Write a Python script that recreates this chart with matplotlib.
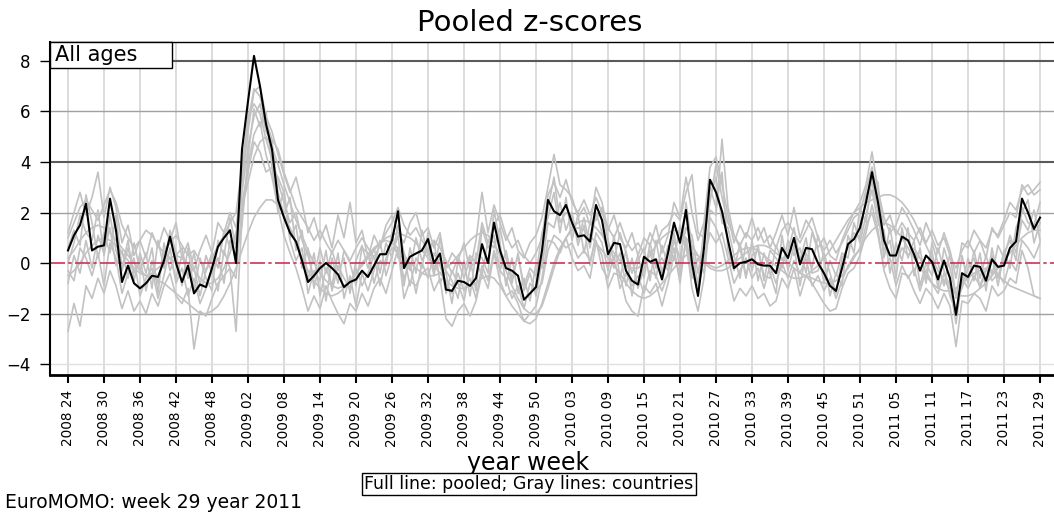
import numpy as np
import matplotlib
matplotlib.use("Agg")
import matplotlib.pyplot as plt
from matplotlib.patches import Rectangle

plt.rcParams["font.family"] = ["DejaVu Sans"]

# week labels shown every 6 weeks, 2008 w24 .. 2011 w29
tick_labels = [
    "2008 24", "2008 30", "2008 36", "2008 42", "2008 48",
    "2009 02", "2009 08", "2009 14", "2009 20", "2009 26", "2009 32",
    "2009 38", "2009 44", "2009 50",
    "2010 03", "2010 09", "2010 15", "2010 21", "2010 27", "2010 33",
    "2010 39", "2010 45", "2010 51",
    "2011 05", "2011 11", "2011 17", "2011 23", "2011 29",
]

# pooled z-score, one value per week
pooled = [
    0.5, 1.1, 1.5, 2.35, 0.5, 0.65, 0.7, 2.55, 1.3, -0.75,
    -0.1, -0.8, -1.0, -0.8, -0.5, -0.55, 0.1, 1.05, 0.0, -0.75,
    -0.1, -1.2, -0.85, -0.95, -0.2, 0.65, 1.0, 1.3, 0.0, 4.5,
    6.4, 8.2, 7.0, 5.5, 4.5, 2.5, 1.8, 1.2, 0.85, 0.1,
    -0.75, -0.5, -0.2, 0.0, -0.2, -0.45, -0.95, -0.75, -0.65, -0.3,
    -0.55, -0.1, 0.35, 0.35, 0.9, 2.05, -0.2, 0.25, 0.38, 0.5,
    0.95, 0.0, 0.38, -1.05, -1.1, -0.7, -0.75, -0.9, -0.6, 0.75,
    0.0, 1.6, 0.5, -0.2, -0.3, -0.5, -1.45, -1.2, -0.95, 0.5,
    2.5, 2.05, 1.9, 2.3, 1.6, 1.05, 1.1, 0.85, 2.3, 1.7,
    0.35, 0.8, 0.75, -0.3, -0.7, -0.85, 0.25, 0.05, 0.15, -0.65,
    0.4, 1.6, 0.8, 2.1, 0.0, -1.3, 0.6, 3.3, 2.8, 2.05,
    0.9, -0.2, 0.0, 0.05, 0.15, -0.05, -0.1, -0.1, -0.4, 0.6,
    0.2, 1.0, -0.05, 0.6, 0.55, 0.0, -0.4, -0.9, -1.1, -0.2,
    0.75, 0.95, 1.4, 2.4, 3.6, 2.4, 0.9, 0.3, 0.3, 1.05,
    0.9, 0.35, -0.3, 0.3, 0.05, -0.65, 0.1, -0.6, -2.05, -0.4,
    -0.55, -0.1, -0.15, -0.7, 0.15, -0.15, -0.1, 0.6, 0.85, 2.55,
    2.0, 1.35, 1.8,
]

# country z-scores (gray lines)
country_a = [
    1.2, 2.0, 2.8, 1.9, 2.6, 3.6, 1.8, 3.0, 2.2, 0.8,
    1.5, 0.3, 0.9, 0.2, 1.2, 0.6, 1.4, 0.9, 1.6, 0.2,
    0.8, -0.3, 0.5, 1.1, 0.4, 1.6, 1.2, 2.0, 1.4, 3.2,
    5.2, 6.8, 7.0, 5.8, 5.2, 4.3, 3.5, 2.8, 3.4, 2.4,
    1.2, 1.8, 0.9, 1.5, 0.6, 1.9, 1.0, 2.4, 0.8, 1.3,
    0.2, 1.1, 0.6, 1.5, 1.9, 1.2, 0.8, 1.6, 2.0, 1.1,
    1.4, 0.6, 1.2, -0.2, 0.4, 0.1, 0.8, -0.3, 0.9, 2.8,
    1.2, 2.3, 1.6, 0.9, 1.4, 0.5, 0.2, 0.8, 1.1, 1.8,
    3.0, 4.3, 3.1, 2.9, 2.6, 1.8, 2.2, 1.5, 3.0, 2.4,
    1.3, 1.9, 1.0, 0.6, 1.2, 0.3, 1.0, 0.7, 1.5, 0.4,
    1.1, 2.4, 1.8, 3.4, 2.0, 0.9, 1.6, 3.8, 4.2, 3.1,
    1.9, 0.8, 1.5, 1.0, 1.8, 0.9, 1.4, 0.6, 1.2, 1.9,
    1.1, 2.2, 1.0, 1.7, 1.3, 0.6, 1.0, 0.3, 0.1, 0.9,
    1.5, 2.0, 2.4, 3.1, 4.4, 2.9, 1.8, 1.2, 1.5, 2.2,
    1.8, 1.3, 0.7, 1.6, 1.0, 0.4, 1.2, 0.5, -0.6, 0.8,
    0.6, 1.3, 0.9, 0.2, 1.4, 1.0, 1.5, 2.0, 1.8, 3.1,
    2.7, 2.9, 3.2,
]
country_b = [
    -2.7, -1.6, -2.5, -0.9, -1.4, -0.6, -1.2, -0.3, -0.9, -1.8,
    -1.1, -1.9, -1.5, -2.0, -1.2, -1.7, -0.9, -0.4, -1.3, -1.6,
    -1.0, -3.4, -1.9, -2.1, -1.4, -0.8, -0.5, -0.2, -2.7, 1.8,
    3.9, 5.1, 5.6, 4.3, 3.4, 2.2, 1.1, 0.4, -0.2, -1.0,
    -1.9, -1.3, -1.8, -0.9, -1.5, -2.0, -2.4, -1.6, -1.9, -1.2,
    -1.7, -1.0, -0.6, -1.2, -0.3, 0.6, -1.4, -0.7, -0.9, -0.4,
    -0.2, -1.1, -0.6, -2.2, -2.5, -1.9, -1.6, -2.1, -1.5, -0.4,
    -1.0, 0.4, -0.7, -1.3, -1.1, -1.6, -2.3, -2.0, -1.7, -0.6,
    0.9, 0.8, 0.4, 1.0, 0.2, -0.3, -0.1, -0.6, 0.8, 0.3,
    -1.0, -0.4, -0.5, -1.5, -1.9, -2.1, -0.9, -1.2, -0.8, -1.7,
    -0.8, 0.3, -0.5, 0.9, -1.0, -1.9, -0.6, 1.8, 1.4, 0.7,
    -0.4, -1.5, -1.0, -1.3, -0.9, -1.4, -1.2, -1.7, -1.5, -0.6,
    -1.0, -0.2, -1.3, -0.5, -0.8, -1.2, -1.6, -1.9, -1.8, -1.0,
    -0.4, -0.2, 0.3, 1.2, 2.3, 1.3, -0.3, -1.0, -1.4, -0.4,
    -0.5, -1.1, -1.6, -1.0, -1.3, -1.8, -1.2, -1.7, -3.3, -1.5,
    -1.6, -1.2, -1.4, -1.9, -0.9, -1.3, -1.1, -0.6, -0.8, 0.5,
    -0.2, -1.3, -1.4,
]
country_c = [
    0.2, 0.5, 0.9, 1.2, 1.4, 1.5, 1.4, 1.2, 0.9, 0.6,
    0.3, 0.0, -0.3, -0.5, -0.6, -0.7, -0.8, -1.0, -1.2, -1.4,
    -1.6, -1.8, -2.0, -2.0, -1.9, -1.7, -1.3, -0.8, -0.2, 0.5,
    1.2, 1.8, 2.2, 2.5, 2.5, 2.3, 1.9, 1.4, 0.8, 0.2,
    -0.3, -0.7, -1.0, -1.2, -1.3, -1.2, -1.0, -0.7, -0.4, -0.1,
    0.2, 0.5, 0.8, 1.0, 1.1, 1.2, 1.1, 1.0, 0.8, 0.5,
    0.2, -0.1, -0.4, -0.7, -0.9, -1.0, -1.0, -0.9, -0.8, -0.6,
    -0.5, -0.6, -0.9, -1.3, -1.7, -2.0, -2.3, -2.4, -2.2, -1.6,
    -0.8, 0.0, 0.6, 1.0, 1.3, 1.4, 1.3, 1.1, 0.8, 0.5,
    0.2, -0.1, -0.4, -0.8, -1.1, -1.3, -1.4, -1.3, -1.1, -0.8,
    -0.5, -0.2, 0.1, 0.3, 0.4, 0.3, 0.1, -0.1, -0.2, -0.1,
    0.1, 0.3, 0.5, 0.6, 0.6, 0.5, 0.3, 0.1, -0.1, -0.3,
    -0.5, -0.6, -0.6, -0.5, -0.3, -0.1, 0.2, 0.5, 0.9, 1.3,
    1.7, 2.0, 2.2, 2.4, 2.5, 2.6, 2.7, 2.7, 2.6, 2.4,
    2.1, 1.7, 1.2, 0.7, 0.2, -0.3, -0.7, -1.0, -1.2, -1.3,
    -1.3, -1.2, -1.0, -0.8, -0.5, -0.2, 0.1, 0.4, 0.7, 1.0,
    1.2, 1.3, 1.3,
]
country_d = [
    -0.5, -0.3, 0.0, 0.4, 0.7, 0.9, 1.0, 0.9, 0.7, 0.4,
    0.1, -0.2, -0.4, -0.5, -0.4, -0.2, 0.0, 0.2, 0.3, 0.2,
    0.0, -0.3, -0.6, -0.8, -0.8, -0.6, -0.2, 0.4, 1.2, 2.2,
    3.2, 4.2, 4.8, 5.0, 4.6, 3.9, 3.1, 2.4, 1.7, 1.1,
    0.5, 0.0, -0.4, -0.7, -0.9, -1.0, -0.9, -0.7, -0.4, 0.0,
    0.3, 0.6, 0.8, 0.9, 0.8, 0.6, 0.3, 0.0, -0.2, -0.4,
    -0.5, -0.5, -0.4, -0.2, 0.0, 0.3, 0.6, 0.9, 1.1, 1.2,
    1.1, 0.8, 0.3, -0.3, -0.9, -1.4, -1.8, -2.0, -2.0, -1.7,
    -1.0, -0.2, 0.5, 1.0, 1.4, 1.6, 1.7, 1.6, 1.4, 1.1,
    0.7, 0.4, 0.1, -0.1, -0.2, -0.2, 0.0, 0.3, 0.7, 1.0,
    1.2, 1.3, 1.2, 1.0, 0.7, 0.3, 0.0, -0.2, -0.3, -0.3,
    -0.2, 0.0, 0.2, 0.4, 0.6, 0.7, 0.7, 0.6, 0.4, 0.2,
    0.0, -0.2, -0.4, -0.5, -0.6, -0.7, -0.8, -0.8, -0.7, -0.5,
    -0.2, 0.2, 0.6, 1.0, 1.3, 1.5, 1.6, 1.5, 1.3, 1.0,
    0.6, 0.2, -0.2, -0.5, -0.8, -1.0, -1.1, -1.1, -1.0, -0.8,
    -0.6, -0.4, -0.3, -0.2, -0.3, -0.5, -0.7, -0.9, -1.0, -1.1,
    -1.2, -1.3, -1.4,
]
country_e = [
    0.0, 0.8, 1.9, 1.2, 0.9, 2.1, 0.3, 1.9, 0.5, -0.3,
    0.6, -0.4, 0.2, -1.1, 0.1, -0.8, 0.5, 0.2, -0.6, 0.3,
    -0.5, -0.2, -1.3, -0.3, 0.4, -0.2, 1.3, 0.6, 1.0, 3.6,
    5.8, 6.3, 5.9, 4.9, 4.1, 3.2, 2.4, 1.6, 2.0, 0.9,
    0.3, -0.6, 0.6, -0.4, 0.5, -0.3, 0.2, -1.2, 0.1, 0.7,
    -0.2, 0.6, -0.4, 0.8, 0.2, 1.5, 0.4, -0.3, 1.0, 0.1,
    0.6, -0.5, 1.0, -0.4, -1.6, 0.1, -0.6, 0.2, -1.1, 1.4,
    0.6, 1.1, -0.3, 0.5, -0.6, 0.3, -0.9, -0.2, -0.5, 1.2,
    1.8, 2.8, 1.2, 2.6, 0.9, 1.9, 0.4, 1.6, 1.7, 2.2,
    0.9, 0.1, 1.2, 0.4, -0.4, 0.3, -0.6, 0.8, -0.2, 0.2,
    -0.3, 0.9, 0.2, 1.4, 1.1, -0.4, 1.0, 2.6, 3.4, 1.6,
    1.4, 0.3, -0.6, 0.8, -0.3, 0.7, -0.7, 0.5, 0.2, -0.2,
    0.9, 0.3, 0.6, -0.4, 1.2, 0.5, -0.8, 0.1, -0.5, 0.4,
    0.2, 1.6, 0.8, 1.9, 2.9, 1.6, 1.3, -0.4, 0.8, 0.1,
    1.4, -0.5, 0.6, -0.8, 0.8, 0.0, -0.9, 0.4, -1.4, 0.3,
    -0.8, 0.5, -0.6, 0.3, -0.5, 0.7, 0.2, 1.1, 0.4, 1.7,
    1.3, 2.1, 0.9,
]
country_f = [
    -0.8, 0.3, -0.4, 0.9, -0.2, 1.1, 0.4, 1.4, -0.1, 0.5,
    -0.6, 0.8, -0.3, 0.4, -1.0, 0.9, -0.2, 1.3, 0.4, -0.9,
    0.6, -1.1, 0.2, -0.6, -1.1, 0.9, 0.3, 1.8, 0.6, 2.8,
    4.6, 5.8, 6.3, 5.2, 4.8, 2.8, 1.9, 2.6, 0.5, 1.3,
    -0.7, 0.4, -1.3, -0.2, -0.9, 0.4, -1.4, -0.5, -1.7, -0.4,
    -1.1, -0.3, 0.9, -0.5, 0.3, 1.1, -0.9, 0.6, -0.4, 1.3,
    0.3, 0.9, -0.8, -0.3, -0.7, -1.4, 0.1, -1.3, 0.4, 0.2,
    -0.4, 2.1, 0.8, -0.9, 0.2, -1.2, -0.6, -1.5, 0.0, -0.2,
    1.6, 1.4, 2.4, 1.3, 2.0, 0.7, 1.5, -0.1, 1.2, 0.8,
    -0.3, 1.1, -0.6, 0.5, -1.3, 0.1, 0.6, -0.7, 0.9, -0.4,
    0.7, 0.1, 1.5, 0.6, -0.6, 0.2, -0.4, 2.1, 1.9, 4.9,
    2.2, 1.1, 0.6, -0.6, 0.9, -0.7, 0.4, -0.4, -1.2, 1.1,
    -0.3, 0.7, -0.9, 0.4, -0.2, 1.1, 0.2, -1.3, -0.4, -0.9,
    1.1, 0.4, 2.2, 1.6, 3.4, 3.2, 0.5, 0.9, -0.6, 1.4,
    0.2, 0.9, -0.9, 0.0, -0.5, 0.6, -0.3, -1.3, -1.9, -0.9,
    0.2, -0.7, 0.4, -1.1, 0.6, -0.6, 0.5, -0.2, 1.4, 2.0,
    2.5, 0.8, 1.6,
]
country_g = [
    0.6, 1.3, 0.7, 2.7, 1.6, 0.2, 1.2, 0.4, 1.9, -0.2,
    0.9, -0.7, 0.4, -0.4, 0.6, -1.2, 0.8, -0.3, 0.3, 0.6,
    -0.6, 0.4, -0.9, 0.3, -0.4, 0.2, -0.8, 0.9, 0.3, 1.5,
    4.2, 6.1, 5.4, 6.0, 3.8, 3.4, 2.8, 1.0, 1.5, -0.2,
    0.6, -1.0, 0.1, -1.5, 0.2, -0.8, 0.5, 0.0, -0.9, 0.6,
    0.4, -0.8, 0.1, -0.1, 1.2, 0.2, 0.3, -0.9, 0.2, -0.2,
    1.2, -0.3, 0.2, -1.2, -0.3, -0.8, -1.5, -0.2, 0.1, -0.5,
    0.9, 0.6, 1.4, 0.2, -0.8, 0.4, -1.1, -0.4, -1.3, 0.1,
    2.2, 3.4, 1.6, 2.0, 1.9, 0.9, 1.8, 0.6, 2.0, 1.2,
    0.5, -0.2, 0.4, -0.9, 0.2, -1.0, -0.2, 0.5, -0.6, 0.7,
    -0.1, 1.2, -0.3, 2.4, 0.6, -0.9, 1.4, 3.0, 2.2, 3.6,
    0.5, -0.3, 0.8, -0.5, 0.3, 0.5, -0.5, -0.6, 0.7, 0.1,
    0.5, 1.4, 0.1, 1.0, -0.4, -0.3, 0.4, -0.4, -1.2, 0.2,
    0.6, 1.2, 1.0, 2.7, 3.2, 2.0, 0.2, 1.4, 0.0, 0.6,
    0.3, 0.6, 0.2, -0.4, 0.5, -1.0, 0.6, -0.2, -1.3, -1.0,
    -0.2, 0.2, -1.0, -0.3, 0.3, -0.9, 0.4, 0.9, 0.1, 2.2,
    1.6, 1.5, 2.4,
]
country_h = [
    -0.3, -0.7, 0.6, 0.2, -0.5, 0.4, -0.9, 0.8, 0.2, -1.2,
    -0.4, 0.2, -1.3, -0.6, -0.2, -1.4, -0.5, 0.6, -0.8, -0.2,
    -1.3, -0.6, -1.6, -1.0, -0.3, -1.1, 0.5, -0.2, -0.6, 2.4,
    3.6, 4.8, 4.4, 3.6, 3.8, 2.0, 2.9, 0.9, 0.1, 0.6,
    -1.2, -0.3, -0.7, 0.5, -1.1, -0.1, -0.6, -1.0, -0.2, -0.9,
    -0.4, 0.3, -0.9, 0.2, 0.6, 0.4, -0.6, 0.0, -1.2, 0.0,
    -0.6, 0.4, -0.1, -0.8, -1.2, -0.4, -1.1, -0.6, -1.4, -0.1,
    -0.7, 0.5, -0.3, -0.6, -1.4, -0.9, -1.8, -0.8, -1.1, -0.8,
    0.5, 1.1, 0.9, 0.6, 0.8, 0.2, 0.5, 0.1, 0.9, -0.2,
    -0.6, 0.3, -1.0, -0.4, -0.9, -0.5, -1.2, -0.3, -0.5, -1.1,
    -0.4, 0.6, -0.8, 1.0, -0.3, -1.2, 0.2, 1.2, 0.8, 1.2,
    0.2, -0.8, -0.3, 0.2, -0.6, -0.2, -1.0, -0.1, -0.8, 0.0,
    -0.6, 0.1, -0.4, 0.2, -0.9, -0.5, -1.1, -0.6, -1.4, -0.7,
    -0.1, 0.3, 0.5, 1.5, 2.0, 1.1, -0.2, 0.2, -0.9, -0.1,
    -0.6, -0.2, -1.1, -0.3, -0.8, -1.2, -0.4, -0.9, -2.4, -0.6,
    -1.0, -0.5, -0.9, -0.2, -0.7, -0.4, -0.8, 0.1, -0.3, 0.9,
    0.6, 0.2, 0.8,
]
country_i = [
    1.0, 1.6, 2.2, 2.5, 2.1, 1.7, 2.3, 2.9, 2.4, 1.5,
    1.0, 0.6, 0.9, 1.3, 1.1, 0.7, 0.4, 0.8, 1.1, 0.7,
    0.3, 0.5, 0.1, -0.3, 0.2, 0.7, 1.1, 1.6, 2.0, 3.8,
    5.6, 6.9, 6.6, 5.6, 4.9, 4.5, 3.6, 2.9, 2.2, 1.8,
    1.4, 0.9, 1.3, 0.8, 0.4, 0.9, 0.5, 0.1, 0.6, 1.0,
    0.6, 0.2, 0.7, 1.2, 1.6, 2.2, 1.5, 1.1, 1.4, 0.9,
    0.5, 0.9, 0.6, 0.1, -0.4, 0.2, -0.2, 0.3, 0.0, 1.6,
    0.8, 1.5, 1.9, 1.1, 0.6, 0.9, 0.3, 0.0, 0.4, 1.0,
    2.7, 3.2, 2.6, 3.3, 2.4, 2.0, 2.5, 1.9, 2.6, 2.0,
    1.4, 1.0, 1.6, 0.9, 0.5, 0.8, 0.4, 1.2, 0.7, 1.3,
    1.5, 2.0, 1.7, 2.8, 3.5, 1.2, 1.0, 2.4, 3.9, 2.6,
    1.6, 1.1, 0.7, 1.2, 0.9, 1.4, 0.8, 1.1, 0.6, 1.3,
    1.6, 1.2, 0.8, 1.3, 1.8, 1.0, 0.5, 0.9, 0.4, 0.8,
    1.3, 1.8, 2.0, 2.9, 3.8, 2.6, 1.5, 1.9, 1.1, 1.6,
    1.2, 0.9, 1.4, 0.8, 1.3, 0.7, 1.0, 0.3, -0.2, 0.5,
    0.9, 0.4, 0.9, 0.6, 1.3, 1.1, 1.7, 2.4, 2.1, 2.9,
    3.1, 2.7, 2.9,
]
countries = [country_a, country_b, country_c, country_d, country_e,
             country_f, country_g, country_h, country_i]

W, H = 1054, 513
fig = plt.figure(figsize=(W / 100, H / 100), dpi=100)
ax = fig.add_axes([50 / W, 1 - 375 / H, 1008 / W, 333 / H])

weeks = np.arange(len(pooled))
tick_pos = np.arange(len(tick_labels)) * 6

ax.set_xlim(-3, 165)
ax.set_ylim(-4.43, 8.75)

# grid
for xp in tick_pos:
    ax.axvline(xp, color="#dcdcdc", lw=1.4, zorder=0)
for yv, col, lw in [(8, "#5a5a5a", 1.5), (4, "#5a5a5a", 1.5), (6, "#a0a0a0", 1.0),
                    (2, "#a0a0a0", 1.0), (-2, "#a0a0a0", 1.0), (-4, "#e0e0e0", 1.0)]:
    ax.axhline(yv, color=col, lw=lw, zorder=0.5)

for c in countries:
    ax.plot(weeks, c, color="#c2c2c2", lw=1.2, zorder=1)

ax.axhline(0, color="#cc3358", lw=1.2, dashes=(9, 2, 2, 2), zorder=2)
ax.plot(weeks, pooled, color="black", lw=1.5, zorder=3)

ax.set_yticks([-4, -2, 0, 2, 4, 6, 8])
ax.set_xticks(tick_pos)
ax.set_xticklabels(tick_labels, rotation=90, fontsize=9.8)
ax.tick_params(axis="y", labelsize=12, length=7, width=1, pad=7)
ax.tick_params(axis="x", length=6, width=1.5, pad=5)

ax.spines["right"].set_visible(False)
ax.spines["left"].set_linewidth(1.5)
ax.spines["bottom"].set_linewidth(2)
ax.spines["top"].set_linewidth(1)

# "All ages" label box in the top-left corner of the panel
fig.patches.append(Rectangle((50 / W, 1 - 68 / H), 122 / W, 26 / H,
                             transform=fig.transFigure, fc="white", ec="black",
                             lw=1, zorder=5))
fig.text(55 / W, 1 - 55 / H, "All ages", fontsize=15, ha="left", va="center", zorder=6)

fig.text(530 / W, 1 - 23 / H, "Pooled z-scores", fontsize=21, ha="center", va="center")
fig.text(528 / W, 1 - 463 / H, "year week", fontsize=17, ha="center", va="center")
fig.text(529 / W, 1 - 484 / H, "Full line: pooled; Gray lines: countries", fontsize=12.5,
         ha="center", va="center",
         bbox=dict(boxstyle="square,pad=0.12", fc="white", ec="black", lw=1))
fig.text(5 / W, 1 - 503 / H, "EuroMOMO: week 29 year 2011", fontsize=13.5,
         ha="left", va="center")

fig.savefig("out.png", dpi=100)
